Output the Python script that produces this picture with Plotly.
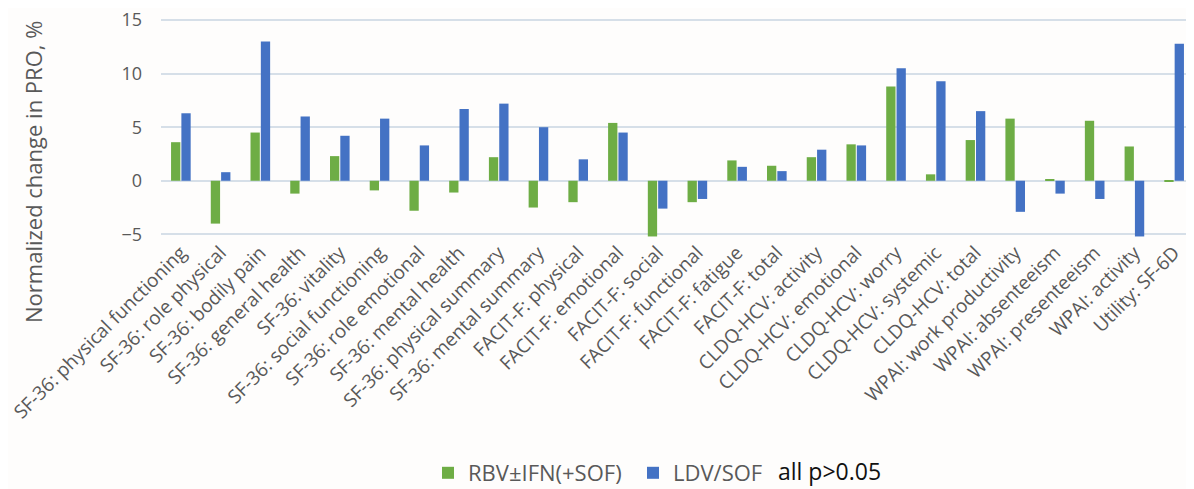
import plotly.graph_objects as go

categories = [
    "SF-36: physical functioning", "SF-36: role physical", "SF-36: bodily pain",
    "SF-36: general health", "SF-36: vitality", "SF-36: social functioning",
    "SF-36: role emotional", "SF-36: mental health", "SF-36: physical summary",
    "SF-36: mental summary", "FACIT-F: physical", "FACIT-F: emotional",
    "FACIT-F: social", "FACIT-F: functional", "FACIT-F: fatigue", "FACIT-F: total",
    "CLDQ-HCV: activity", "CLDQ-HCV: emotional", "CLDQ-HCV: worry",
    "CLDQ-HCV: systemic", "CLDQ-HCV: total", "WPAI: work productivity",
    "WPAI: absenteeism", "WPAI: presenteeism", "WPAI: activity", "Utility: SF-6D",
]
rbv_ifn = [3.6, -4.0, 4.5, -1.2, 2.3, -0.9, -2.8, -1.1, 2.2, -2.5, -2.0, 5.4,
           -5.2, -2.0, 1.9, 1.4, 2.2, 3.4, 8.8, 0.6, 3.8, 5.8, 0.1, 5.6, 3.2, -0.1]
ldv_sof = [6.3, 0.8, 13.0, 6.0, 4.2, 5.8, 3.3, 6.7, 7.2, 5.0, 2.0, 4.5,
           -2.6, -1.7, 1.3, 0.9, 2.9, 3.3, 10.5, 9.3, 6.5, -2.9, -1.2, -1.7, -5.2, 12.8]
y_ticks = [-5, 0, 5, 10, 15]

GREEN = "#6EAD45"
BLUE = "#4472C4"
GRAY = "#595959"
FONT = "Open Sans"
OFF = 8  # page body margin offset
W, H = 1194 - OFF, 489 - OFF
L, R, T = 161 - OFF, 0, 19 - OFF
B = H - (237 - OFF)
PW, PH = W - L - R, H - T - B


def px_x(x):
    return (x - OFF - L) / PW


def px_y(y):
    return (H - B - (y - OFF)) / PH


fig = go.Figure()
fig.add_trace(go.Bar(x=categories, y=rbv_ifn, name="RBV±IFN(+SOF)",
                     marker=dict(color=GREEN, line=dict(width=0))))
fig.add_trace(go.Bar(x=categories, y=ldv_sof, name="LDV/SOF",
                     marker=dict(color=BLUE, line=dict(width=0))))

fig.update_layout(
    width=W, height=H,
    margin=dict(l=L, r=R, t=T, b=B, autoexpand=False),
    paper_bgcolor="#FEFDFC", plot_bgcolor="#FEFDFC",
    barmode="group", bargap=0.48, bargroupgap=0.1,
    font=dict(family=FONT, color=GRAY, size=16),
    showlegend=True,
    legend=dict(orientation="h", xref="container", x=420 / W, xanchor="left",
                yref="container", y=1 - (473 - OFF) / H, yanchor="middle",
                font=dict(size=22, color=GRAY), bgcolor="rgba(0,0,0,0)",
                entrywidth=160, entrywidthmode="pixels", traceorder="normal"),
    annotations=[
        dict(text="Normalized change in PRO, %", textangle=-90,
             x=px_x(33), xref="paper", y=px_y(172), yref="paper",
             xanchor="center", yanchor="middle", showarrow=False,
             font=dict(size=22, color=GRAY)),
        dict(text="all p>0.05", x=px_x(776), xref="paper", y=px_y(471), yref="paper",
             xanchor="left", yanchor="middle", showarrow=False,
             font=dict(size=23, color="#111111")),
    ],
)

fig.update_xaxes(tickangle=-45, tickfont=dict(size=19, color=GRAY), showgrid=False,
                 showline=False, ticks="", automargin=False)
fig.update_yaxes(range=[-5.25, 15.1], tickvals=y_ticks, tickfont=dict(size=18, color=GRAY),
                 showgrid=True, gridcolor="#D6DFE8", gridwidth=1.5, zeroline=True,
                 zerolinecolor="#D6DFE8", zerolinewidth=1.5, ticks="", ticklabelstandoff=18,
                 ticklabeloverflow="allow", automargin=False)

fig.write_html("out.html")
